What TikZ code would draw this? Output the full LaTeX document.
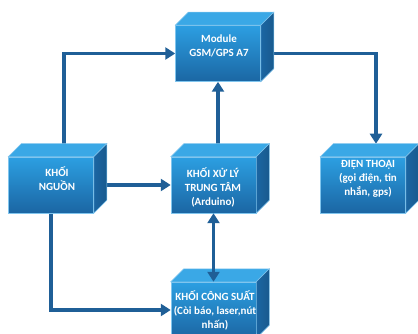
\documentclass[tikz,border=0pt]{standalone}
\usepackage{fontspec}
\setmainfont{Carlito}
\usetikzlibrary{arrows.meta,backgrounds}
\definecolor{xanhsang}{HTML}{2C9FE2}
\definecolor{xanhtoi}{HTML}{1B66A3}
\definecolor{xanhtren}{HTML}{3AA8E6}
\definecolor{xanhben}{HTML}{195A8E}
\definecolor{xanhmuiten}{HTML}{1F5F97}
\tikzset{
  khoi/.style={minimum width=85pt,minimum height=56pt,inner sep=0pt,
    top color=xanhsang,bottom color=xanhtoi,draw=xanhsang!60!white,line width=0.5pt},
  chu/.style={align=center,text=white,font=\bfseries\fontsize{11}{14}\selectfont},
  muiten/.style={draw=xanhmuiten,line width=3.6pt,
    -{Triangle[length=10pt,width=12pt]}},
}
% mat tren va mat ben cua khoi
\newcommand{\matkhoi}[1]{%
  \fill[xanhtren,draw=xanhsang!60!white,line width=0.5pt] (#1.north west) -- ++(13pt,13pt)
    -- ([shift={(13pt,13pt)}]#1.north east) -- (#1.north east) -- cycle;
  \shade[left color=xanhtoi,right color=xanhben,draw=xanhsang!60!white,line width=0.5pt]
    (#1.north east) -- ++(13pt,13pt)
    -- ([shift={(13pt,13pt)}]#1.south east) -- (#1.south east) -- cycle;}
\begin{document}
\begin{tikzpicture}[x=1pt,y=-1pt]
  \useasboundingbox (0,0) rectangle (418,334);
  % Cac khoi
  \node[khoi] (modul) at (218,53.5) {};
  \node[khoi] (nguon) at (51,185) {};
  \node[khoi] (xuly) at (213.5,185) {};
  \node[khoi] (dthoai) at (363,185) {};
  \node[khoi] (congsuat) at (213.5,310) {};
  \matkhoi{modul}
  \matkhoi{nguon}
  \matkhoi{xuly}
  \matkhoi{dthoai}
  \matkhoi{congsuat}
  % Chu
  \node[chu] (modul-chu) at (219,46) {Module\\GSM/GPS A7};
  \node[chu] (nguon-chu) at (57,179) {KHỐI\\NGUỒN};
  \node[chu] (xuly-chu) at (213,187) {KHỐI XỬ LÝ\\TRUNG TÂM\\(Arduino)};
  \node[chu] (dthoai-chu) at (368,179) {ĐIỆN THOẠI\\(gọi điện, tin\\nhắn, gps)};
  \node[chu] (congsuat-chu) at (215,310) {KHỐI CÔNG SUẤT\\(Còi báo, laser,nút\\nhấn)};
  % Mui ten
  \begin{scope}[on background layer]
    \draw[muiten] ([xshift=13pt]nguon.center) |- (modul.west);
    \draw[muiten] (modul.east) -| ([shift={(13pt,13pt)}]dthoai.north);
    \draw[muiten] (modul.south |- xuly.center) -- (modul.south);
    \draw[muiten] (nguon.center) -- (xuly.west);
    \draw[muiten] (nguon.center) |- (congsuat.west);
  \end{scope}
  \draw[muiten,{Triangle[length=10pt,width=12pt]}-{Triangle[length=10pt,width=12pt]}]
    (xuly.south) -- (congsuat.north);
\end{tikzpicture}
\end{document}
